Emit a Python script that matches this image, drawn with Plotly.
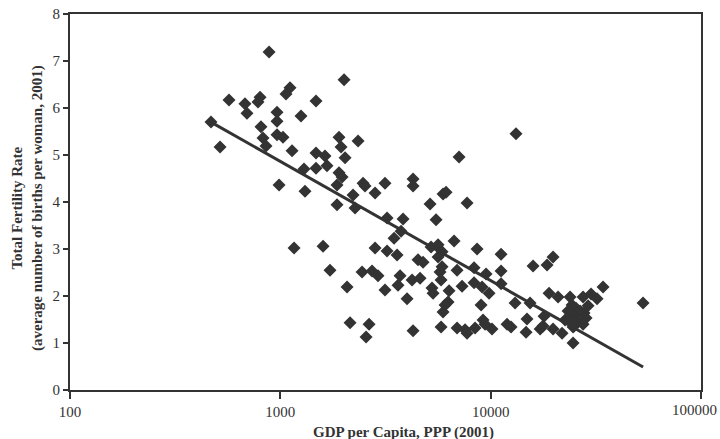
import plotly.graph_objects as go

# GDP per capita, PPP (2001) and total fertility rate (2001)
gdp = [884, 2009, 1112, 1064, 570, 801, 783, 679, 694, 964, 1478, 1254, 468, 809, 964,
       964, 1030, 827, 855, 517, 1137, 1901, 1944, 2342, 1478, 1631, 1667, 1478, 2031, 1296,
       1901, 1966, 986, 1310, 1860, 2473, 2527, 2217, 2820, 1860, 2266,
       13200, 7075, 3146, 4276, 4276, 5938, 6137, 5150, 7722, 3216, 3832, 5500, 3749, 3472,
       3216, 3588, 5207, 5622, 5874, 6697, 8616, 11205, 5622, 4515, 4770, 5874, 5747, 6921,
       8337, 9508, 11205, 15910, 18540, 19800, 3709, 3627, 4229, 4616, 3146, 5263, 5322, 5810,
       6341, 7311, 8337, 9103, 9825, 11205, 4004, 6272, 6070, 5938, 9004, 13060, 15390, 18950,
       20920, 23850, 27500, 30010, 32060, 34220, 4276, 5810, 6921, 7554, 7722, 8430, 9202, 9404,
       10150, 11966, 12500, 14890, 14730, 17180, 17750, 19800, 21850, 22580, 24650, 24650, 17940,
       24380, 25470, 26610, 27800, 25190, 23850, 28410, 26030, 24920, 27500, 23330, 29050,
       53040, 1162, 1596, 2820, 1722, 2446, 2729, 2914, 2076, 2145, 2641, 2556]
tfr = [7.19, 6.60, 6.43, 6.30, 6.17, 6.23, 6.13, 6.09, 5.89, 5.91, 6.15, 5.83, 5.70, 5.60, 5.72,
       5.43, 5.38, 5.36, 5.19, 5.17, 5.09, 5.38, 5.17, 5.30, 5.04, 4.98, 4.77, 4.72, 4.94, 4.70,
       4.62, 4.53, 4.36, 4.23, 4.36, 4.40, 4.34, 4.15, 4.19, 3.94, 3.87,
       5.45, 4.96, 4.40, 4.49, 4.34, 4.17, 4.21, 3.96, 3.98, 3.66, 3.64, 3.62, 3.38, 3.23,
       2.96, 2.87, 3.04, 3.09, 2.94, 3.17, 3.00, 2.89, 2.83, 2.77, 2.72, 2.62, 2.51, 2.55,
       2.60, 2.47, 2.53, 2.64, 2.66, 2.83, 2.43, 2.23, 2.34, 2.38, 2.13, 2.17, 2.06, 2.34,
       2.11, 2.21, 2.28, 2.19, 2.06, 2.26, 1.94, 1.87, 1.81, 1.66, 1.81, 1.85, 1.85, 2.06,
       1.98, 1.98, 1.98, 2.04, 1.94, 2.19, 1.26, 1.34, 1.32, 1.28, 1.21, 1.32, 1.49, 1.40,
       1.30, 1.40, 1.34, 1.51, 1.23, 1.30, 1.36, 1.30, 1.21, 1.49, 1.00, 1.34, 1.57,
       1.81, 1.74, 1.68, 1.64, 1.57, 1.51, 1.53, 1.45, 1.36, 1.40, 1.68, 1.79,
       1.85, 3.02, 3.06, 3.02, 2.55, 2.51, 2.53, 2.43, 2.19, 1.43, 1.40, 1.13]

# fitted trend line end points
trend_gdp = [468, 53040]
trend_tfr = [5.70, 0.49]

x_ticks = [100, 1000, 10000, 100000]
x_tick_labels = ["100", "1000", "10000", "100000"]
y_ticks = [0, 1, 2, 3, 4, 5, 6, 7, 8]

ink = "#333333"
serif = "Liberation Serif"

fig = go.Figure()
fig.add_trace(go.Scatter(x=gdp, y=tfr, mode="markers",
                         marker=dict(symbol="diamond", size=10, color=ink, line=dict(width=0)),
                         showlegend=False))
fig.add_trace(go.Scatter(x=trend_gdp, y=trend_tfr, mode="lines",
                         line=dict(color=ink, width=3), showlegend=False))

# last tick label drawn right-aligned so it stays inside the page
shown_labels = x_tick_labels[:-1] + [""]

fig.update_layout(
    width=720, height=439,
    margin=dict(l=70, r=19, t=14, b=49, autoexpand=False),
    paper_bgcolor="white", plot_bgcolor="white",
    font=dict(family=serif, size=14, color=ink),
    xaxis=dict(type="log", range=[2, 5], tickvals=x_ticks, ticktext=shown_labels,
               showgrid=False, zeroline=False, showline=True, linecolor=ink, linewidth=2,
               mirror=True, ticks="outside", ticklen=7, tickwidth=2, tickcolor=ink,
               automargin=False,
               tickfont=dict(family=serif, size=15, color=ink)),
    yaxis=dict(range=[0, 8], tickvals=y_ticks, automargin=False,
               showgrid=False, zeroline=False, showline=True, linecolor=ink, linewidth=2,
               mirror=True, ticks="outside", ticklen=5, tickwidth=2, tickcolor=ink,
               tickfont=dict(family=serif, size=15, color=ink)),
    annotations=[
        dict(text=x_tick_labels[-1], xref="x", yref="paper", x=5, y=0,
             xanchor="right", yanchor="middle", xshift=18, yshift=-20, showarrow=False,
             font=dict(family=serif, size=15, color=ink)),
        dict(text="<b>GDP per Capita, PPP (2001)</b>", xref="paper", yref="paper",
             x=0.5, y=0, xanchor="center", yanchor="middle", xshift=18, yshift=-42,
             showarrow=False, font=dict(family=serif, size=15, color=ink)),
        dict(text="<b>Total Fertility Rate</b><br><b>(average number of births per woman, 2001)</b>",
             xref="paper", yref="paper", x=0, y=0.5, xanchor="center", yanchor="middle",
             xshift=-43, yshift=-6, textangle=-90, showarrow=False,
             font=dict(family=serif, size=15, color=ink)),
    ],
)

fig.write_html("out.html")
